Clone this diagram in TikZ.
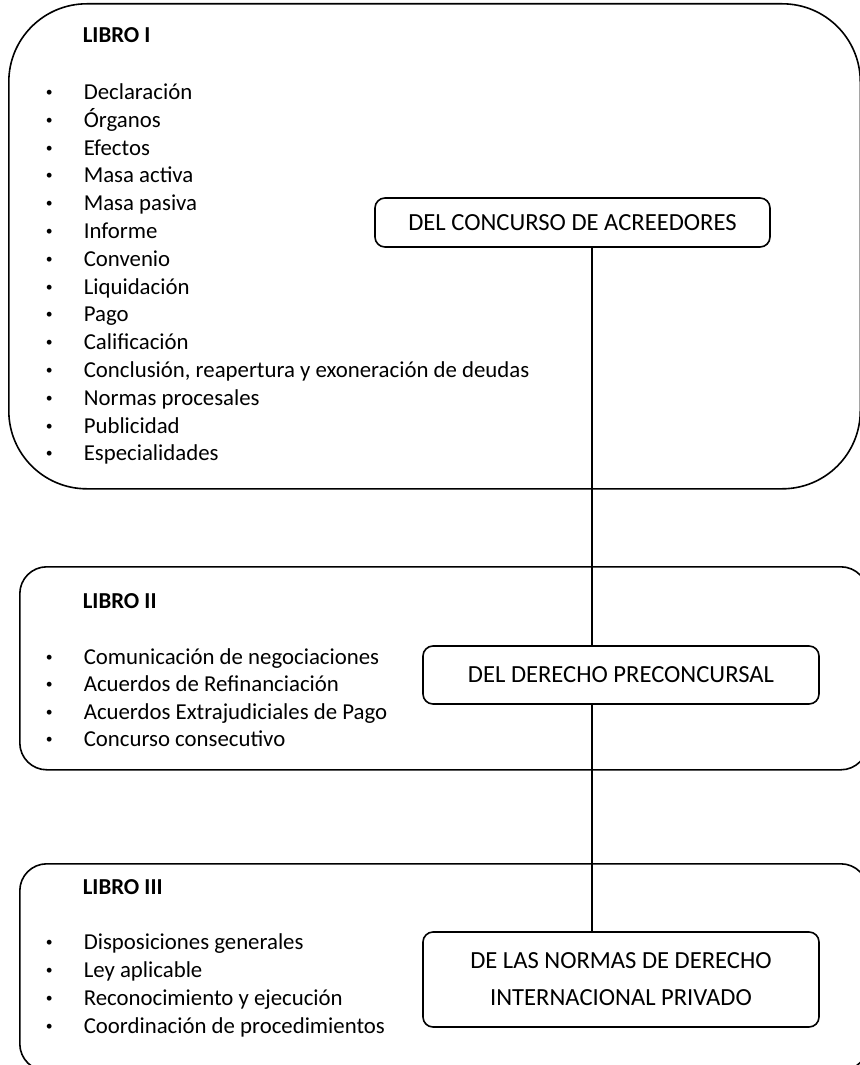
\documentclass[tikz,border=0pt]{standalone}
\usepackage{fontspec}
\setmainfont{Carlito}

\newcommand{\vineta}{\makebox[20pt][l]{\hspace{1pt}\raisebox{1.5pt}{\scalebox{0.6}{•}}}}

\begin{document}
\begin{tikzpicture}[x=0.5pt,y=-0.5pt,line width=0.8pt,
	libro/.style={draw,anchor=north west,inner sep=0pt,rounded corners=#1},
	titulo/.style={draw,rounded corners=5pt,align=center,minimum width=198pt,
		font=\fontsize{12.3}{18.5}\selectfont},
	cab/.style={anchor=base west,inner sep=0pt,font=\fontsize{11.4}{13.9}\selectfont\bfseries},
	item/.style={anchor=base west,inner sep=0pt,font=\fontsize{11.4}{13.9}\selectfont}]

	\clip (0,0) rectangle (860,1065);

	% los tres libros
	\node[libro=39pt,minimum width=425.75pt,minimum height=242.5pt] (libroI) at (8,3) {};
	\node[libro=13.5pt,minimum width=424pt,minimum height=101.5pt] (libroII) at (19,566) {};
	\node[libro=13.5pt,minimum width=424pt,minimum height=103.5pt] (libroIII) at (19,863) {};

	\node[cab] (cabI) at (82,43) {LIBRO I};
	\node[cab] (cabII) at (82,608) {LIBRO II};
	\node[cab] (cabIII) at (82,894) {LIBRO III};

	\foreach \t [count=\i] in {Declaración,Órganos,Efectos,Masa activa,Masa pasiva,
		Informe,Convenio,Liquidación,Pago,Calificación,
		{Conclusión, reapertura y exoneración de deudas},
		Normas procesales,Publicidad,Especialidades}
	\node[item] (uno-\i) at (43,{99.5+27.8*(\i-1)}) {\vineta\t};

	\foreach \t [count=\i] in {Comunicación de negociaciones,Acuerdos de Refinanciación,
		Acuerdos Extrajudiciales de Pago,Concurso consecutivo}
	\node[item] (dos-\i) at (43,{664+27.6*(\i-1)}) {\vineta\t};

	\foreach \t [count=\i] in {Disposiciones generales,Ley aplicable,
		Reconocimiento y ejecución,Coordinación de procedimientos}
	\node[item] (tres-\i) at (43,{949+28.2*(\i-1)}) {\vineta\t};

	% titulos
	\node[titulo,minimum width=197.5pt,minimum height=24.5pt] (A) at (572.5,222.5)
	{DEL CONCURSO DE ACREEDORES};
	\node[titulo,minimum height=29pt] (B) at (621,675) {DEL DERECHO PRECONCURSAL};
	\node[titulo,minimum height=47.5pt] (C) at (621,979.5)
	{DE LAS NORMAS DE DERECHO\\INTERNACIONAL PRIVADO};

	\coordinate (eje) at (592,0);
	\draw (A.south -| eje) -- (B.north -| eje);
	\draw (B.south -| eje) -- (C.north -| eje);

\end{tikzpicture}
\end{document}
